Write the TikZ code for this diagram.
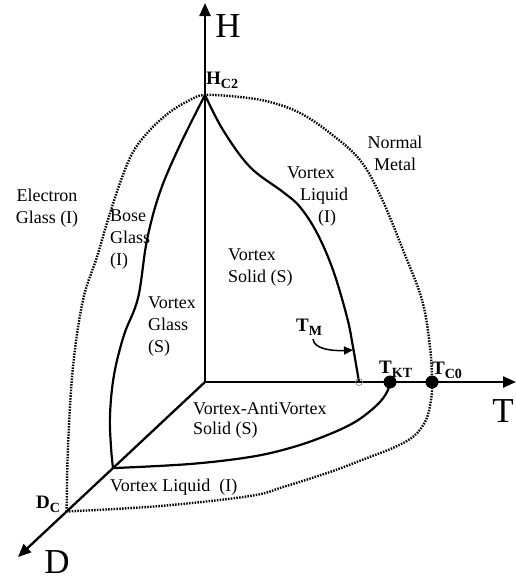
\documentclass[tikz,border=0pt]{standalone}
\usepackage{fontspec}
\setmainfont{Liberation Serif}
\usetikzlibrary{arrows.meta,calc}
\newcommand\subl[1]{\raisebox{-4.5pt}{\fontsize{14}{14}\selectfont\bfseries #1}}
\begin{document}
\begin{tikzpicture}[x=1pt,y=-1pt,
 axis/.style={line width=2.3pt,-{Triangle[length=13pt,width=11pt]}},
 bound/.style={line width=2.2pt},
 dotb/.style={line width=2.4pt,dash pattern=on 1.5pt off 1.3pt},
 lbl/.style={font=\fontsize{18}{22}\selectfont,inner sep=0pt},
 big/.style={font=\fontsize{35}{35}\selectfont,inner sep=0pt},
 ptl/.style={font=\fontsize{19}{19}\selectfont\bfseries,inner sep=0pt,anchor=base west},
 fdot/.style={circle,fill=black,inner sep=0pt,minimum size=13pt}]
\useasboundingbox (0,0) rectangle (516,581);
% key points
\coordinate (o) at (205,382);
\coordinate (htip) at (205,3);
\coordinate (ttip) at (516,382);
\coordinate (dtip) at (18,557);
\coordinate (hc2) at (205,95);
\coordinate (dv) at ($(o)!0.492!(dtip)$);
\coordinate (dc) at ($(o)!0.74!(dtip)$);
\coordinate (tm) at (359,382);
\coordinate (pkt) at (390,382);
\coordinate (pc0) at (432,382);
% axes
\draw[axis] (o) -- (htip);
\draw[axis] (o) -- (ttip);
\draw[axis] (o) -- (dtip);
% outer dotted boundary
\draw[dotb] plot[smooth,tension=0.6] coordinates {(dc) (68,447) (73,367) (83,300) (97,257) (107,223) (120,183) (133,152) (150,130) (170,112) (190,100) (hc2) (240,97) (270,102) (300,113) (330,133) (360,160) (381,197) (403,250) (422,300) (430,347) (pc0) (431,400) (426,420) (414,436) (395,447) (367,458) (330,472) (283,487) (250,496) (160,506) (dc)};
% Bose glass boundary
\draw[bound] plot[smooth,tension=0.6] coordinates {(hc2) (180,145) (160,192) (147,240) (138,298) (124,335) (114,375) (110,415) (111,447) (dv)};
% melting line
\draw[bound] plot[smooth,tension=0.6] coordinates {(hc2) (223,130) (250,167) (283,192) (300,207) (317,233) (333,270) (347,317) (353,347) (tm)};
% vortex-antivortex boundary
\draw[bound] plot[smooth,tension=0.6] coordinates {(dv) (190,464) (250,457) (290,448) (325,436) (355,422) (377,405) (387,392) (pkt)};
\draw[gray,line width=0.6pt] (tm) circle (3.5pt);
\node[fdot] (tkt) at (pkt) {};
\node[fdot] (tc0) at (pc0) {};
% axis labels
\node[big] (hl) at (228,26) {H};
\node[big] (tl) at (503,411) {T};
\node[big] (dl) at (57,562) {D};
% point labels
\node[ptl] (hc2l) at (206,84) {H\subl{C2}};
\node[ptl] (tml) at (296,331) {T\subl{M}};
\node[ptl] (tktl) at (379,373) {T\subl{KT}};
\node[ptl] (tc0l) at (432,374) {T\subl{C0}};
\node[ptl] (dcl) at (36,508) {D\subl{C}};
\coordinate (tma) at (313,339);
\coordinate (tmb) at (353,350);
\draw[line width=1.5pt,-{Triangle[length=9pt,width=8pt]}] (tma) .. controls (314,350) and (335,351) .. (tmb);
% region labels
\node[lbl,align=center] (eg) at (47,208) {Electron\\Glass (I)};
\node[lbl,align=left,anchor=west] (bg) at (110,240) {Bose\\Glass\\(I)};
\node[lbl,align=left,anchor=west] (vg) at (148,327) {Vortex\\Glass\\(S)};
\node[lbl,align=left,anchor=west] (vs) at (228,268) {Vortex\\Solid (S)};
\node[lbl,align=left,anchor=west] (vl) at (287,197) {Vortex\\\hspace*{13pt}Liquid\\\hspace*{31pt}(I)};
\node[lbl,align=center] (nm) at (395,153) {Normal\\Metal};
\node[lbl,align=left,anchor=west,font=\fontsize{18}{20}\selectfont] (vav) at (193,420) {Vortex-AntiVortex\\Solid (S)};
\node[lbl,anchor=west] (vlq) at (110,487) {Vortex Liquid\ \ (I)};
\end{tikzpicture}
\end{document}
